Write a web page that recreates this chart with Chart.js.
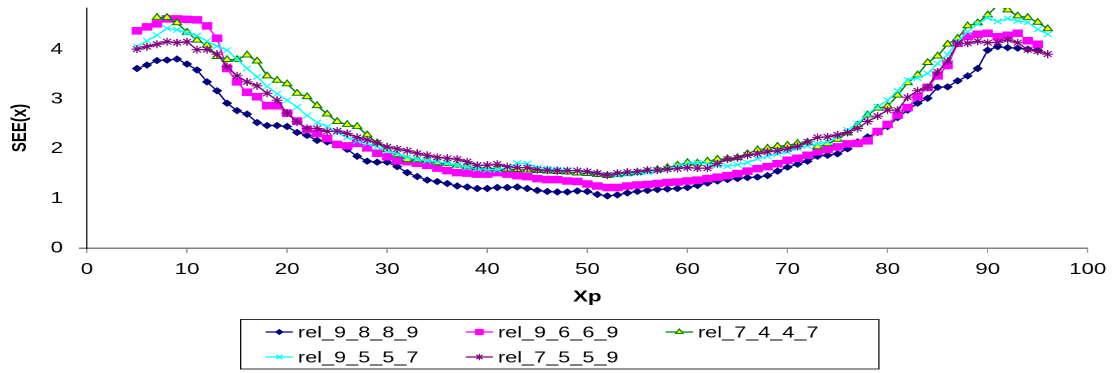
<!DOCTYPE html>
<html>
<head>
<meta charset="utf-8">
<script src="https://cdn.jsdelivr.net/npm/chart.js@4.4.1/dist/chart.umd.min.js"></script>
<style>
  html, body { margin: 0; padding: 0; background: #fff; overflow: hidden; }
  /* the picture is a horizontally stretched chart, so draw narrow and stretch */
  #wrap { width: 798px; height: 373px; transform: scaleX(1.39975); transform-origin: 0 0; }
</style>
</head>
<body>
<div id="wrap"><canvas id="chart" width="798" height="373" style="width:798px;height:373px"></canvas></div>
<script>
// x positions of the points
const xp = [5, 6, 7, 8, 9, 10, 11, 12, 13, 14, 15, 16, 17, 18, 19, 20, 21, 22, 23, 24,
  25, 26, 27, 28, 29, 30, 31, 32, 33, 34, 35, 36, 37, 38, 39, 40, 41, 42, 43, 44,
  45, 46, 47, 48, 49, 50, 51, 52, 53, 54, 55, 56, 57, 58, 59, 60, 61, 62, 63, 64,
  65, 66, 67, 68, 69, 70, 71, 72, 73, 74, 75, 76, 77, 78, 79, 80, 81, 82, 83, 84,
  85, 86, 87, 88, 89, 90, 91, 92, 93, 94, 95, 96];

const rel_9_8_8_9 = [3.62, 3.69, 3.78, 3.79, 3.81, 3.71, 3.59, 3.35, 3.17, 2.92,
  2.77, 2.70, 2.53, 2.47, 2.47, 2.45, 2.33, 2.27, 2.17, 2.14,
  2.08, 1.99, 1.85, 1.75, 1.73, 1.73, 1.64, 1.52, 1.44, 1.37,
  1.34, 1.30, 1.25, 1.23, 1.20, 1.20, 1.22, 1.22, 1.23, 1.20,
  1.16, 1.14, 1.13, 1.13, 1.15, 1.14, 1.08, 1.05, 1.07, 1.11,
  1.14, 1.16, 1.18, 1.19, 1.20, 1.22, 1.26, 1.31, 1.35, 1.38,
  1.40, 1.42, 1.43, 1.46, 1.55, 1.63, 1.69, 1.75, 1.85, 1.87,
  1.90, 2.00, 2.14, 2.24, 2.33, 2.45, 2.63, 2.78, 2.92, 3.02,
  3.24, 3.25, 3.37, 3.47, 3.62, 3.99, 4.06, 4.04, 4.03, 4.01,
  3.99, null];

const rel_9_6_6_9 = [4.38, 4.46, 4.52, 4.62, 4.62, 4.61, 4.60, 4.48, 4.23, 3.62,
  3.35, 3.14, 3.05, 2.87, 2.87, 2.72, 2.56, 2.39, 2.31, 2.21,
  2.09, 2.06, 2.11, 2.02, 1.91, 1.84, 1.76, 1.74, 1.71, 1.67,
  1.61, 1.56, 1.52, 1.51, 1.49, 1.49, 1.52, 1.49, 1.46, 1.44,
  1.40, 1.38, 1.38, 1.35, 1.34, 1.29, 1.25, 1.22, 1.22, 1.25,
  1.27, 1.28, 1.30, 1.32, 1.33, 1.35, 1.37, 1.40, 1.43, 1.46,
  1.50, 1.55, 1.60, 1.64, 1.70, 1.77, 1.81, 1.87, 1.94, 1.99,
  2.04, 2.10, 2.11, 2.16, 2.35, 2.49, 2.68, 2.83, 3.05, 3.24,
  3.47, 3.68, 4.13, 4.27, 4.31, 4.33, 4.26, 4.29, 4.33, 4.18,
  4.11, null];

const rel_7_4_4_7 = [null, null, 4.65, 4.65, 4.54, 4.35, 4.19, 4.09, 3.86, 3.80,
  3.80, 3.89, 3.77, 3.47, 3.38, 3.31, 3.12, 3.05, 2.87, 2.70,
  2.55, 2.49, 2.45, 2.28, 2.12, 1.98, 1.88, 1.78, 1.78, 1.77,
  1.72, 1.70, 1.67, 1.64, 1.62, 1.61, 1.60, 1.59, 1.58, 1.57,
  1.56, 1.55, 1.54, 1.53, 1.51, 1.50, 1.48, 1.46, 1.48, 1.50,
  1.52, 1.55, 1.58, 1.62, 1.67, 1.72, 1.71, 1.75, 1.79, 1.80,
  1.82, 1.90, 1.98, 2.01, 2.05, 2.07, 2.11, 2.13, 2.04, 2.10,
  2.19, 2.32, 2.48, 2.68, 2.82, 2.86, 3.08, 3.33, 3.49, 3.74,
  3.87, 4.11, 4.23, 4.48, 4.54, 4.70, 4.90, 4.80, 4.68, 4.65,
  4.55, 4.42];

const rel_9_5_5_7 = [4.06, 4.18, 4.29, 4.43, 4.40, 4.34, 4.28, 4.17, 4.07, 3.99,
  3.81, 3.62, 3.45, 3.26, 3.11, 2.98, 2.84, 2.67, 2.53, 2.45,
  2.33, 2.23, 2.16, 2.11, 2.04, 1.96, 1.90, 1.83, 1.79, 1.76,
  1.74, 1.71, 1.67, 1.63, 1.60, 1.58, 1.58, 1.62, 1.71, 1.70,
  1.62, 1.60, 1.58, 1.57, 1.55, 1.53, 1.50, 1.47, 1.47, 1.49,
  1.51, 1.53, 1.56, 1.60, 1.65, 1.70, 1.72, 1.70, 1.67, 1.65,
  1.68, 1.72, 1.80, 1.85, 1.90, 1.94, 2.01, 2.06, 2.10, 2.14,
  2.24, 2.38, 2.51, 2.70, 2.85, 2.98, 3.17, 3.39, 3.43, 3.52,
  3.72, 3.90, 4.17, 4.36, 4.52, 4.64, 4.57, 4.63, 4.58, 4.55,
  4.41, 4.31];

const rel_7_5_5_9 = [4.01, 4.06, 4.11, 4.16, 4.14, 4.16, 4.00, 4.00, 3.91, 3.66,
  3.47, 3.35, 3.27, 3.12, 2.98, 2.72, 2.54, 2.41, 2.41, 2.35,
  2.36, 2.31, 2.23, 2.18, 2.12, 2.04, 2.00, 1.96, 1.91, 1.87,
  1.83, 1.81, 1.79, 1.74, 1.67, 1.67, 1.69, 1.64, 1.62, 1.62,
  1.58, 1.57, 1.56, 1.56, 1.56, 1.54, 1.51, 1.47, 1.51, 1.53,
  1.54, 1.57, 1.57, 1.59, 1.60, 1.62, 1.61, 1.61, 1.70, 1.79,
  1.82, 1.87, 1.90, 1.94, 1.96, 2.00, 2.05, 2.14, 2.23, 2.24,
  2.28, 2.33, 2.41, 2.55, 2.66, 2.78, 2.78, 3.04, 3.17, 3.24,
  3.55, 3.77, 4.13, 4.13, 4.17, 4.14, 4.15, 4.20, 4.14, 4.00,
  3.97, 3.91];

const seriesNames = ["rel_9_8_8_9", "rel_9_6_6_9", "rel_7_4_4_7", "rel_9_5_5_7", "rel_7_5_5_9"];
const xTicks = [0, 10, 20, 30, 40, 50, 60, 70, 80, 90, 100];
const yTicks = [0, 1, 2, 3, 4];

const FONT = '"Liberation Sans", Arial, sans-serif';

function pts(values) {
  return xp.map((x, i) => ({ x: x, y: values[i] }));
}

// legend drawn in the box under the axis, 3 per row like the original
const legendBox = {
  id: 'legendBox',
  afterDraw(chart) {
    const ctx = chart.ctx;
    ctx.save();
    ctx.strokeStyle = '#000';
    ctx.lineWidth = 0.8;
    ctx.strokeRect(171.9, 319.5, 456, 49.5);
    chart.data.datasets.forEach((ds, i) => {
      const x = 189.8 + (i % 3) * 142.9;
      const y = 332 + Math.floor(i / 3) * 25;
      ctx.strokeStyle = ds.borderColor;
      ctx.lineWidth = 1.2;
      ctx.beginPath();
      ctx.moveTo(x, y);
      ctx.lineTo(x + 19.5, y);
      ctx.stroke();
      ctx.fillStyle = ds.pointBackgroundColor;
      ctx.strokeStyle = ds.pointBorderColor;
      ctx.lineWidth = ds.pointBorderWidth;
      Chart.helpers.drawPoint(ctx, {
        pointStyle: ds.pointStyle,
        radius: ds.pointRadius * 0.8,
        borderWidth: ds.pointBorderWidth,
        rotation: 0
      }, x + 9.75, y);
      ctx.fillStyle = '#000';
      ctx.font = '15.5px ' + FONT;
      ctx.textBaseline = 'middle';
      ctx.textAlign = 'left';
      ctx.fillText(ds.label, x + 23, y + 1);
    });
    ctx.restore();
  }
};

new Chart(document.getElementById('chart').getContext('2d'), {
  type: 'line',
  data: {
    datasets: [
      { label: seriesNames[0], data: pts(rel_9_8_8_9), order: 4,
        borderColor: '#000080', borderWidth: 1.2,
        pointStyle: 'rectRot', pointRadius: 3, pointBackgroundColor: '#000080',
        pointBorderColor: '#000080', pointBorderWidth: 1 },
      { label: seriesNames[1], data: pts(rel_9_6_6_9), order: 3,
        borderColor: '#FF00FF', borderWidth: 1.2,
        pointStyle: 'rect', pointRadius: 4.6, pointBackgroundColor: '#FF00FF',
        pointBorderColor: '#FF00FF', pointBorderWidth: 1 },
      { label: seriesNames[2], data: pts(rel_7_4_4_7), order: 2,
        borderColor: '#008000', borderWidth: 1.2,
        pointStyle: 'triangle', pointRadius: 3.8, pointBackgroundColor: '#FFFF00',
        pointBorderColor: '#008000', pointBorderWidth: 1 },
      { label: seriesNames[3], data: pts(rel_9_5_5_7), order: 1,
        borderColor: '#00FFFF', borderWidth: 1.2,
        pointStyle: 'crossRot', pointRadius: 4, pointBackgroundColor: '#00FFFF',
        pointBorderColor: '#00FFFF', pointBorderWidth: 1 },
      { label: seriesNames[4], data: pts(rel_7_5_5_9), order: 0,
        borderColor: '#800080', borderWidth: 1.2,
        pointStyle: 'star', pointRadius: 4, pointBackgroundColor: '#800080',
        pointBorderColor: '#800080', pointBorderWidth: 1 }
    ]
  },
  options: {
    responsive: false,
    animation: false,
    devicePixelRatio: 2,
    layout: { padding: { left: 0, top: 8, right: 20.9, bottom: 55 } },
    plugins: { legend: { display: false }, tooltip: { enabled: false } },
    elements: { line: { tension: 0 } },
    scales: {
      x: {
        type: 'linear', min: 0, max: 100,
        afterBuildTicks: s => { s.ticks = xTicks.map(v => ({ value: v })); },
        afterFit: s => { s.height = 70; },
        border: { color: '#808080', width: 1.5 },
        grid: { drawOnChartArea: false, tickLength: 5, color: '#808080', lineWidth: 0.8 },
        ticks: { color: '#000', padding: 7, maxRotation: 0, font: { family: FONT, size: 16 } },
        title: { display: true, text: 'Xp', color: '#000',
          font: { family: FONT, size: 16, weight: 'bold' }, padding: { top: 0, bottom: 11.4 } }
      },
      y: {
        min: 0, max: 4.84,
        afterBuildTicks: s => { s.ticks = yTicks.map(v => ({ value: v })); },
        afterFit: s => { s.width = 62.1; s.paddingTop = 0; s.paddingBottom = 0; },
        border: { color: '#000', width: 0.8 },
        grid: { drawOnChartArea: false, tickLength: 5.7, lineWidth: 1.5,
          color: c => (c.tick && c.tick.value === 0 ? '#808080' : 'rgba(0,0,0,0)') },
        ticks: { color: '#000', padding: 11.4, font: { family: FONT, size: 16 } },
        title: { display: true, text: 'SEE(x)', color: '#000',
          font: { family: FONT, size: 15, weight: 'bold' }, padding: { top: 5.3, bottom: 0 } }
      }
    }
  },
  plugins: [legendBox]
});
</script>
</body>
</html>
